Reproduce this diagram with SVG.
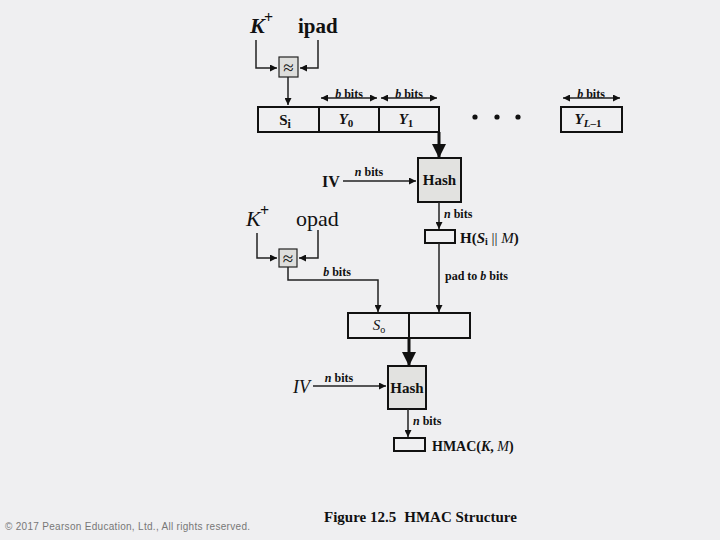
<svg xmlns="http://www.w3.org/2000/svg" width="720" height="540" viewBox="0 0 720 540">
<defs>
<marker id="ah" viewBox="0 0 10 10" refX="10" refY="5" markerWidth="7" markerHeight="7" markerUnits="userSpaceOnUse" orient="auto"><path d="M0,0 L10,5 L0,10 z" fill="#111"/></marker>
<marker id="ahs" viewBox="0 0 10 10" refX="0" refY="5" markerWidth="7" markerHeight="7" markerUnits="userSpaceOnUse" orient="auto"><path d="M10,0 L0,5 L10,10 z" fill="#111"/></marker>
<marker id="big" viewBox="0 0 10 10" refX="10" refY="5" markerWidth="14" markerHeight="16" markerUnits="userSpaceOnUse" orient="auto"><path d="M0,0 L10,5 L0,10 z" fill="#111"/></marker>
</defs>
<style>
.bg{fill:#efeff1}
.box{fill:none;stroke:#111;stroke-width:2}
.hash{fill:#e2e2e0;stroke:#111;stroke-width:2}
.op{fill:#dededc;stroke:#222;stroke-width:1.2}
.ln{fill:none;stroke:#222;stroke-width:1.5}
.thick{fill:none;stroke:#111;stroke-width:3}
.t{font-family:"Liberation Serif",serif;fill:#111}
.b{font-weight:bold}
.i{font-style:italic}
</style>
<rect class="bg" x="0" y="0" width="720" height="540"/>

<g id="k1"><text class="t b i" x="250" y="33" font-size="22">K</text><text class="t b" x="264" y="23" font-size="16">+</text></g>
<g id="ipad"><text class="t b" x="298" y="33" font-size="21">ipad</text></g>
<g id="xor1"><rect class="op" x="279" y="57" width="19" height="20"/><text class="t" x="288.5" y="74" font-size="19" text-anchor="middle">≈</text></g>

<g id="row1">
<rect class="box" x="258" y="107" width="61" height="25"/>
<rect class="box" x="319" y="107" width="60" height="25"/>
<rect class="box" x="379" y="107" width="60" height="25"/>
<rect class="box" x="561" y="107" width="61" height="25"/>
<text class="t b" x="285" y="125" font-size="15" text-anchor="middle">S<tspan font-size="12" dy="3">i</tspan></text>
<text class="t b i" x="346" y="124" font-size="15" text-anchor="middle">Y<tspan font-size="11" dy="3" font-style="normal">0</tspan></text>
<text class="t b i" x="406" y="124" font-size="15" text-anchor="middle">Y<tspan font-size="11" dy="3" font-style="normal">1</tspan></text>
<text class="t b i" x="588" y="124" font-size="15" text-anchor="middle">Y<tspan font-size="11" dy="3">L</tspan><tspan font-size="11" font-style="normal">–1</tspan></text>
<circle cx="475" cy="117" r="2.6" fill="#111"/>
<circle cx="497" cy="117" r="2.6" fill="#111"/>
<circle cx="518" cy="117" r="2.6" fill="#111"/>
<text class="t b" x="349" y="98" font-size="12" text-anchor="middle"><tspan font-style="italic">b</tspan> bits</text>
<text class="t b" x="409" y="98" font-size="12" text-anchor="middle"><tspan font-style="italic">b</tspan> bits</text>
<text class="t b" x="591" y="98" font-size="12" text-anchor="middle"><tspan font-style="italic">b</tspan> bits</text>
</g>

<g id="hash1"><rect class="hash" x="418" y="158" width="43" height="44"/><text class="t b" x="439.5" y="185" font-size="15" text-anchor="middle">Hash</text></g>
<g id="iv1"><text class="t b" x="322" y="187" font-size="16">IV</text><text class="t b" x="369" y="176" font-size="12" text-anchor="middle"><tspan font-style="italic">n</tspan> bits</text></g>
<g id="h1out"><rect class="box" x="425" y="230" width="30" height="13"/><text class="t b" x="460" y="243" font-size="15">H(<tspan font-style="italic">S</tspan><tspan font-size="10" dy="2">i</tspan><tspan dy="-2" font-weight="normal"> || </tspan><tspan font-style="italic" font-weight="normal">M</tspan>)</text></g>
<text class="t b" x="444" y="218" font-size="12"><tspan font-style="italic">n</tspan> bits</text>
<text class="t b" x="445" y="280" font-size="12">pad to <tspan font-style="italic">b</tspan> bits</text>

<g id="k2"><text class="t i" x="246" y="226" font-size="22">K</text><text class="t b" x="260" y="216" font-size="16">+</text></g>
<g id="opad"><text class="t" x="296" y="226" font-size="22">opad</text></g>
<g id="xor2"><rect class="op" x="279" y="249" width="18" height="18"/><text class="t" x="288" y="265" font-size="19" text-anchor="middle">≈</text></g>
<text class="t b" x="337" y="276" font-size="12" text-anchor="middle"><tspan font-style="italic">b</tspan> bits</text>

<g id="row2">
<rect class="box" x="348" y="313" width="61" height="25"/>
<rect class="box" x="409" y="313" width="61" height="25"/>
<text class="t i" x="379" y="330" font-size="15" text-anchor="middle">S<tspan font-size="10" dy="3" font-style="normal">o</tspan></text>
</g>

<g id="hash2"><rect class="hash" x="388" y="366" width="38" height="43"/><text class="t b" x="407" y="393" font-size="15" text-anchor="middle">Hash</text></g>
<g id="iv2"><text class="t i" x="293" y="393" font-size="18">IV</text><text class="t b" x="339" y="382" font-size="12" text-anchor="middle"><tspan font-style="italic">n</tspan> bits</text></g>
<text class="t b" x="413" y="425" font-size="12"><tspan font-style="italic">n</tspan> bits</text>
<g id="hmac"><rect class="box" x="394" y="438" width="31" height="13"/><text class="t b" x="432" y="451" font-size="14">HMAC(<tspan font-style="italic">K</tspan>, <tspan font-style="italic" font-weight="normal">M</tspan>)</text></g>

<g id="connectors">
<polyline class="ln" points="256,40 256,68 277,68" marker-end="url(#ah)"/>
<polyline class="ln" points="318,40 318,68 300,68" marker-end="url(#ah)"/>
<line class="ln" x1="288" y1="77" x2="288" y2="105" marker-end="url(#ah)"/>
<line class="ln" x1="321" y1="98" x2="377" y2="98" marker-start="url(#ahs)" marker-end="url(#ah)"/>
<line class="ln" x1="381" y1="98" x2="437" y2="98" marker-start="url(#ahs)" marker-end="url(#ah)"/>
<line class="ln" x1="563" y1="98" x2="620" y2="98" marker-start="url(#ahs)" marker-end="url(#ah)"/>
<line class="thick" x1="439" y1="132" x2="439" y2="158" marker-end="url(#big)"/>
<line class="ln" x1="343" y1="181" x2="416" y2="181" marker-end="url(#ah)"/>
<line class="ln" x1="439" y1="202" x2="439" y2="229" marker-end="url(#ah)"/>
<line class="ln" x1="439" y1="243" x2="439" y2="312" marker-end="url(#ah)"/>
<polyline class="ln" points="257,233 257,258 277,258" marker-end="url(#ah)"/>
<polyline class="ln" points="318,230 318,258 299,258" marker-end="url(#ah)"/>
<polyline class="ln" points="288,267 288,280 378,280 378,312" marker-end="url(#ah)"/>
<line class="thick" x1="409" y1="338" x2="409" y2="366" marker-end="url(#big)"/>
<line class="ln" x1="313" y1="386" x2="386" y2="386" marker-end="url(#ah)"/>
<line class="ln" x1="408" y1="409" x2="408" y2="437" marker-end="url(#ah)"/>
</g>

<text class="t b" x="324" y="522" font-size="15">Figure 12.5<tspan dx="8">HMAC Structure</tspan></text>
<text x="5" y="530" font-family="Liberation Sans, sans-serif" font-size="10" letter-spacing="0.3" fill="#777">© 2017 Pearson Education, Ltd., All rights reserved.</text>
</svg>
